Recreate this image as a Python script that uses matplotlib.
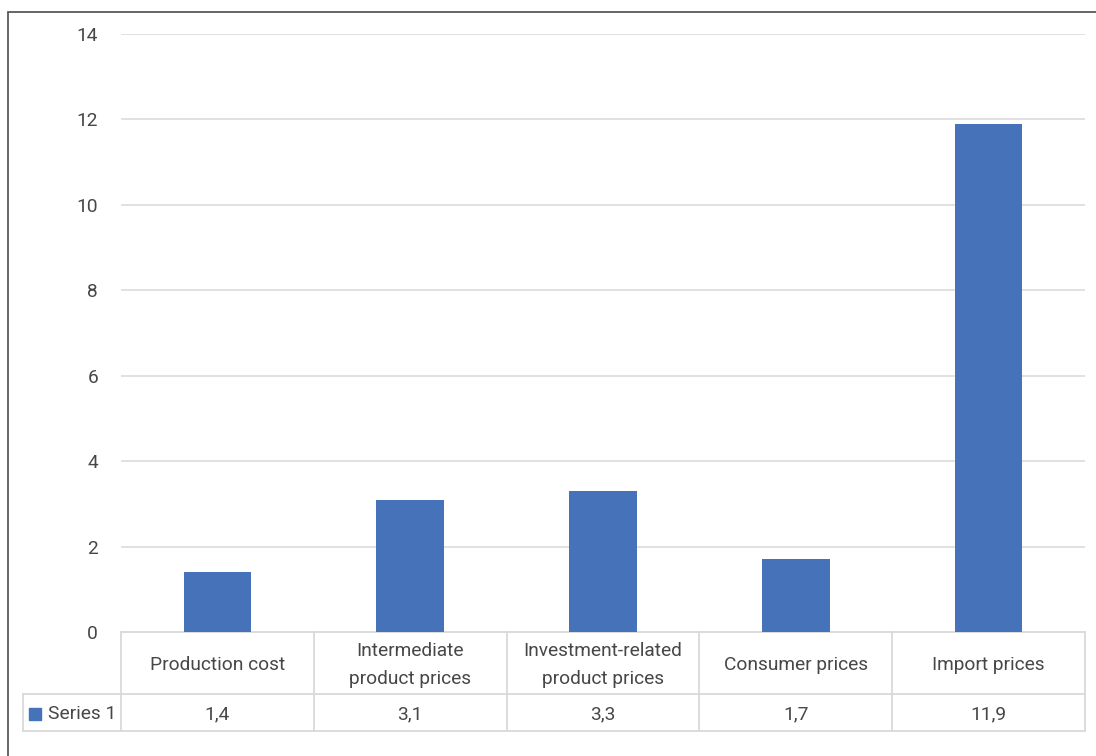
import matplotlib
matplotlib.use("Agg")
import matplotlib.pyplot as plt
from matplotlib.patches import Rectangle

categories = ["Production cost", "Intermediate\nproduct prices",
              "Investment-related\nproduct prices", "Consumer prices", "Import prices"]
values = [1.4, 3.1, 3.3, 1.7, 11.9]
value_labels = ["1,4", "3,1", "3,3", "1,7", "11,9"]
series_name = "Series 1"
y_ticks = [0, 2, 4, 6, 8, 10, 12, 14]

BAR = "#4672b9"
GRID = "#d9d9d9"
TEXT = "#474747"
FS = 13.8

plt.rcParams["font.family"] = ["Roboto", "DejaVu Sans"]

W, H = 1096, 756
fig = plt.figure(figsize=(W / 100, H / 100), dpi=100)
fig.patch.set_facecolor("white")

# outer frame (runs off the right and bottom edges)
fig.patches.append(Rectangle((8 / W, -0.1), 1.2, 1 - 12 / H + 0.1,
                             transform=fig.transFigure, fill=False,
                             edgecolor="#595959", linewidth=1.3))

x0, x1 = 121, 1085
ytop, ybot = 34, 632
ax = fig.add_axes([x0 / W, (H - ybot) / H, (x1 - x0) / W, (ybot - ytop) / H])
n = len(categories)
ax.bar(range(n), values, width=0.35, color=BAR, zorder=3)
ax.set_xlim(-0.5, n - 0.5)
ax.set_ylim(0, 14)
ax.set_yticks(y_ticks)
ax.set_yticklabels([str(t) for t in y_ticks], fontsize=FS, color=TEXT)
ax.tick_params(axis="y", length=0, pad=16.5)
ax.set_xticks([])
for s in ax.spines.values():
    s.set_visible(False)
for t in y_ticks[1:]:
    ax.axhline(t, color=GRID, linewidth=1.1, zorder=1)

# data table beneath the axis
ph = ybot - ytop


def ypix(p):
    """Pixel row below the axis top -> axes fraction."""
    return -(p - ybot) / ph


r1 = ypix(694)
r2 = ypix(731)
left = (23 - x0) / (x1 - x0)
kw = dict(transform=ax.transAxes, clip_on=False, color=GRID, linewidth=1.3, zorder=2)
ax.plot([0, 1], [0, 0], **kw)
ax.plot([left, 1], [r1, r1], **kw)
ax.plot([left, 1], [r2, r2], **kw)
ax.plot([left, left], [r1, r2], **kw)
for i in range(n + 1):
    ax.plot([i / n, i / n], [0, r2], **kw)

head_y = ypix(665)
val_y = ypix(714)
for i, (c, v) in enumerate(zip(categories, value_labels)):
    xc = (i + 0.5) / n
    ax.text(xc, head_y, c, transform=ax.transAxes, ha="center", va="center",
            fontsize=FS, color=TEXT, linespacing=1.7)
    ax.text(xc, val_y, v, transform=ax.transAxes, ha="center", va="center",
            fontsize=FS, color=TEXT)

# series key in the table
sq = 12
ax.add_patch(Rectangle(((29 - x0) / (x1 - x0), val_y - sq / 2 / ph),
                       sq / (x1 - x0), sq / ph, transform=ax.transAxes,
                       clip_on=False, color=BAR))
ax.text((48 - x0) / (x1 - x0), val_y, series_name, transform=ax.transAxes,
        ha="left", va="center", fontsize=FS, color=TEXT)

fig.savefig("out.png", dpi=100)
